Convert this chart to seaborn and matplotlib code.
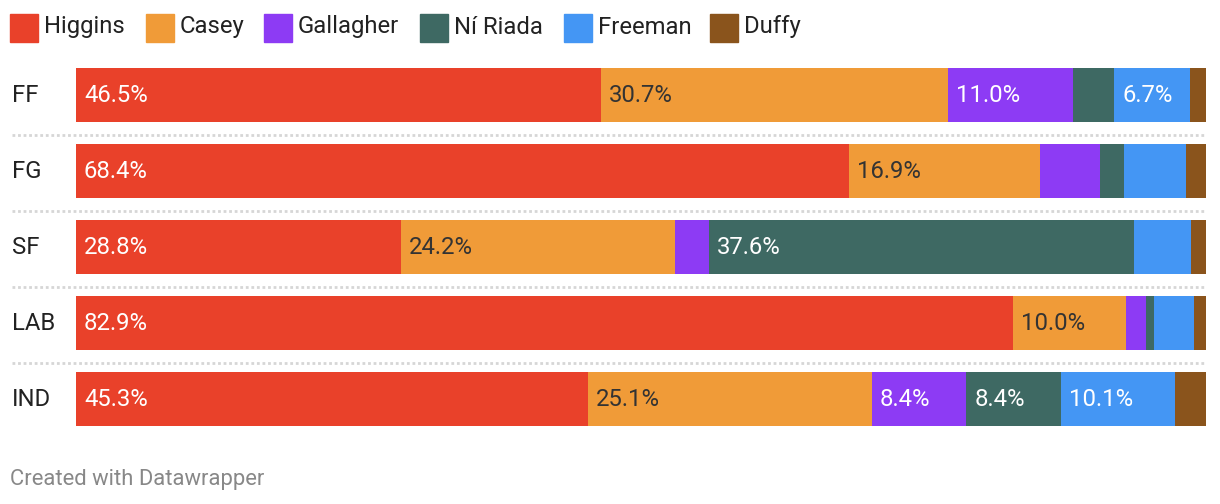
import numpy as np
import pandas as pd
import seaborn as sns
import matplotlib.pyplot as plt
from matplotlib.patches import Rectangle

groups = ["FF", "FG", "SF", "LAB", "IND"]
candidates = ["Higgins", "Casey", "Gallagher", "Ní Riada", "Freeman", "Duffy"]
higgins = [46.5, 68.4, 28.8, 82.9, 45.3]
casey = [30.7, 16.9, 24.2, 10.0, 25.1]
gallagher = [11.0, 5.3, 3.0, 1.8, 8.4]
ni_riada = [3.7, 2.1, 37.6, 0.7, 8.4]
freeman = [6.7, 5.5, 5.1, 3.5, 10.1]
duffy = [1.4, 1.8, 1.3, 1.1, 2.7]

colors = ["#E9412A", "#F09B38", "#8D3BF4", "#3E6963", "#4496F4", "#8A541C"]
label_colors = ["white", "#333333", "white", "white", "white", "white"]

sns.set_theme(style="white")
plt.rcParams['font.family'] = ['Roboto', 'DejaVu Sans']

df = pd.DataFrame({"group": groups, "Higgins": higgins, "Casey": casey,
                   "Gallagher": gallagher, "Ní Riada": ni_riada,
                   "Freeman": freeman, "Duffy": duffy})
cum = df[candidates].cumsum(axis=1)

fig = plt.figure(figsize=(12.2, 5.04), dpi=100)
ax = fig.add_axes([76 / 1220, 1 - 437 / 504, 1130 / 1220, 380 / 504])

# stack by drawing cumulative totals from the outermost segment inward
for name, c in reversed(list(zip(candidates, colors))):
    d = pd.DataFrame({"group": groups, "val": cum[name]})
    sns.barplot(data=d, x="val", y="group", orient="h", color=c,
                saturation=1, width=0.71, linewidth=0, ax=ax)

ax.set_xlim(0, 100)
ax.set_ylim(4.5, -0.5)
ax.set_xlabel("")
ax.set_ylabel("")
ax.set_xticks([])
ax.set_yticks([])
for s in ax.spines.values():
    s.set_visible(False)

fs = 17.2

# segment value labels
for i, g in enumerate(groups):
    start = 0
    for name, tc in zip(candidates, label_colors):
        v = df.loc[i, name]
        if v >= 6:
            ax.text(start + 0.7, i, f"{v:.1f}%", color=tc, fontsize=fs,
                    va="center", ha="left")
        start += v
    ax.text(-5.65, i, g, color="#222222", fontsize=fs, va="center", ha="left")

# dotted row separators
for k in range(len(groups) - 1):
    ax.plot([-5.65, 100], [k + 0.5 + 0.02, k + 0.5 + 0.02], color="#d6d6d6",
            lw=2, ls=(0, (1, 1)), clip_on=False)

# legend
leg_x = [10, 146, 264, 420, 564, 710]
for x, name, c in zip(leg_x, candidates, colors):
    fig.patches.append(Rectangle((x / 1220, 1 - 42 / 504), 28 / 1220, 28 / 504,
                                 transform=fig.transFigure, color=c))
    fig.text((x + 34) / 1220, 1 - 27 / 504, name, fontsize=fs,
             color="#222222", va="center", ha="left")

fig.text(10 / 1220, 1 - 479 / 504, "Created with Datawrapper", fontsize=15.8,
         color="#888888", va="center", ha="left")

fig.savefig("out.png", dpi=100, facecolor="white")
